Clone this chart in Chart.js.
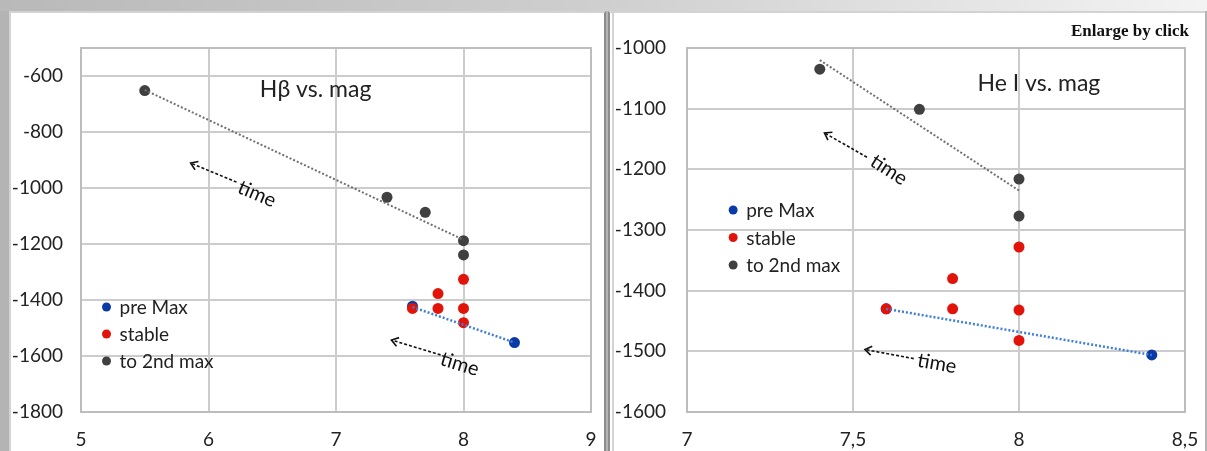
<!DOCTYPE html>
<html>
<head>
<meta charset="utf-8">
<script src="https://cdn.jsdelivr.net/npm/chart.js@4.4.1/dist/chart.umd.min.js"></script>
<style>
  html, body { margin: 0; padding: 0; }
  body { width: 1207px; height: 451px; position: relative; overflow: hidden; background: #b4b4b4; }
  .topbar { position: absolute; left: 0; top: 0; width: 1207px; height: 11px;
            background: linear-gradient(to right, #b9b9b9, #cfcfcf 50%, #f3f3f3); }
  .panel { position: absolute; top: 11px; height: 440px; background: #fff; box-sizing: border-box;
           border-top: 2px solid #d3d3d3; }
  #p1 { left: 9px; width: 597px; border-left: 2px solid #d3d3d3; border-right: 2px solid #8c8c8c; }
  #p2 { left: 608px; width: 597px; border-left: 2px solid #8c8c8c; }
  #p2 .inner { position: absolute; left: 2px; top: 0; bottom: 0; border-left: 2px solid #d3d3d3; }
  canvas { position: absolute; }
  #c1 { left: 11px; top: 12px; }
  #c2 { left: 612px; top: 12px; }
  .enlarge { position: absolute; right: 18px; top: 21px; font: bold 17px "Liberation Serif", serif; color: #111; }
</style>
</head>
<body>
<div class="topbar"></div>
<div class="panel" id="p1"></div>
<div class="panel" id="p2"><div class="inner"></div></div>
<canvas id="c1" width="592" height="439"></canvas>
<canvas id="c2" width="593" height="439"></canvas>
<div class="enlarge">Enlarge by click</div>
<script>
// H-beta vs. mag
const hbPreMaxX = [7.6, 8.4];
const hbPreMaxY = [-1422, -1552];
const hbStableX = [7.6, 7.8, 7.8, 8.0, 8.0, 8.0];
const hbStableY = [-1430, -1377, -1430, -1326, -1430, -1481];
const hbSecondX = [5.5, 7.4, 7.7, 8.0, 8.0];
const hbSecondY = [-652, -1033, -1087, -1188, -1239];
const hbTrendGrayX = [5.5, 8.0];
const hbTrendGrayY = [-650, -1185];
const hbTrendBlueX = [7.6, 8.4];
const hbTrendBlueY = [-1425, -1552];

// He I vs. mag
const hePreMaxX = [7.6, 8.4];
const hePreMaxY = [-1430, -1506];
const heStableX = [7.6, 7.8, 7.8, 8.0, 8.0, 8.0];
const heStableY = [-1430, -1380, -1430, -1328, -1432, -1482];
const heSecondX = [7.4, 7.7, 8.0, 8.0];
const heSecondY = [-1035, -1101, -1216, -1277];
const heTrendGrayX = [7.4, 8.0];
const heTrendGrayY = [-1020, -1235];
const heTrendBlueX = [7.6, 8.4];
const heTrendBlueY = [-1430, -1506];

const seriesNames = ['pre Max', 'stable', 'to 2nd max'];

const BLUE = '#0a3aa6';
const RED = '#e2140a';
const GRAY = '#404040';
const FONT = 'Lato, "Open Sans", sans-serif';

function zip(xs, ys) {
    return xs.map((x, i) => ({ x: x, y: ys[i] }));
}

// frame around the plot area
const framePlugin = {
    id: 'frame',
    beforeDatasetsDraw(chart) {
        const a = chart.chartArea;
        const ctx = chart.ctx;
        ctx.save();
        ctx.strokeStyle = '#bdbdbd';
        ctx.lineWidth = 2;
        ctx.strokeRect(a.left, a.top, a.right - a.left, a.bottom - a.top);
        ctx.restore();
    }
};

// title, legend and "time" arrows inside the plot area
const notesPlugin = {
    id: 'notes',
    afterDraw(chart) {
        const n = chart.options.plugins.notes;
        const sx = chart.scales.x, sy = chart.scales.y;
        const px = v => sx.getPixelForValue(v);
        const py = v => sy.getPixelForValue(v);
        const ctx = chart.ctx;
        ctx.save();

        // title
        ctx.fillStyle = '#222';
        ctx.font = n.titleSize + 'px ' + FONT;
        ctx.textAlign = 'center';
        ctx.textBaseline = 'middle';
        ctx.fillText(n.title, px(n.titleAt[0]), py(n.titleAt[1]));

        // legend
        const lx = px(n.legendAt[0]);
        const ly = py(n.legendAt[1]);
        ctx.font = '19px ' + FONT;
        ctx.textAlign = 'left';
        chart.data.datasets.filter(d => d.inLegend).forEach((d, i) => {
            const y = ly + i * n.legendGap;
            ctx.fillStyle = d.backgroundColor;
            ctx.beginPath();
            ctx.arc(lx, y, 4.5, 0, Math.PI * 2);
            ctx.fill();
            ctx.fillStyle = '#222';
            ctx.fillText(d.label, lx + 13, y + 1);
        });

        // time arrows
        n.arrows.forEach(a => {
            const hx = px(a.head[0]), hy = py(a.head[1]);
            const tx = px(a.tail[0]), ty = py(a.tail[1]);
            const ang = Math.atan2(hy - ty, hx - tx);
            ctx.strokeStyle = '#111';
            ctx.lineWidth = 1.6;
            ctx.setLineDash([3, 2]);
            ctx.beginPath();
            ctx.moveTo(tx, ty);
            ctx.lineTo(hx, hy);
            ctx.stroke();
            ctx.setLineDash([]);
            ctx.beginPath();
            ctx.moveTo(hx + 8 * Math.cos(ang + Math.PI - 0.6), hy + 8 * Math.sin(ang + Math.PI - 0.6));
            ctx.lineTo(hx, hy);
            ctx.lineTo(hx + 8 * Math.cos(ang + Math.PI + 0.6), hy + 8 * Math.sin(ang + Math.PI + 0.6));
            ctx.stroke();

            ctx.save();
            ctx.translate(px(a.text[0]), py(a.text[1]));
            ctx.rotate(a.rot * Math.PI / 180);
            ctx.fillStyle = '#111';
            ctx.font = '20px ' + FONT;
            ctx.textAlign = 'center';
            ctx.textBaseline = 'middle';
            ctx.fillText('time', 0, 0);
            ctx.restore();
        });
        ctx.restore();
    }
};

function makeChart(canvas, s) {
    const tickFont = { family: FONT, size: 19 };

    return new Chart(canvas, {
        type: 'scatter',
        data: {
            datasets: [
                { label: seriesNames[0], data: zip(s.preX, s.preY), backgroundColor: BLUE, borderColor: BLUE,
                  pointRadius: 5.5, pointBorderWidth: 0, order: 3, inLegend: true },
                { label: seriesNames[1], data: zip(s.stableX, s.stableY), backgroundColor: RED, borderColor: RED,
                  pointRadius: 5.5, pointBorderWidth: 0, order: 1, inLegend: true },
                { label: seriesNames[2], data: zip(s.secondX, s.secondY), backgroundColor: GRAY, borderColor: GRAY,
                  pointRadius: 5.5, pointBorderWidth: 0, order: 2, inLegend: true },
                { label: 'trend gray', data: zip(s.trendGrayX, s.trendGrayY), showLine: true, pointRadius: 0,
                  borderColor: '#707070', borderWidth: 2, borderDash: [2, 2], order: 0 },
                { label: 'trend blue', data: zip(s.trendBlueX, s.trendBlueY), showLine: true, pointRadius: 0,
                  borderColor: '#3f7fd6', borderWidth: 2.5, borderDash: [2, 2], order: 0 }
            ]
        },
        options: {
            responsive: false,
            animation: false,
            layout: { padding: { top: 36, right: s.padRight, left: 0, bottom: 0 } },
            plugins: {
                legend: { display: false },
                tooltip: { enabled: false },
                notes: s.notes
            },
            scales: {
                x: {
                    type: 'linear', min: s.xMin, max: s.xMax,
                    // invisible tick marks push the labels down without widening the side padding
                    grid: { color: '#cccccc', lineWidth: 2, drawTicks: true, tickLength: 16, tickColor: 'rgba(0,0,0,0)' },
                    border: { display: false },
                    ticks: { stepSize: s.xStep, padding: 0, font: tickFont, color: '#222',
                             callback: v => String(v).replace('.', ',') },
                    afterFit: scale => { scale.height = 39; }
                },
                y: {
                    type: 'linear', min: s.yMin, max: s.yMax,
                    grid: { color: '#cccccc', lineWidth: 2, drawTicks: false },
                    border: { display: false },
                    ticks: { stepSize: s.yStep, padding: s.yPad, font: tickFont, color: '#222',
                             callback: v => String(v) },
                    afterBuildTicks: scale => {
                        scale.ticks = scale.ticks.filter(t => t.value % s.yStep === 0);
                    },
                    afterFit: scale => { scale.width = s.yWidth; }
                }
            }
        },
        plugins: [framePlugin, notesPlugin]
    });
}

makeChart(document.getElementById('c1'), {
    preX: hbPreMaxX, preY: hbPreMaxY,
    stableX: hbStableX, stableY: hbStableY,
    secondX: hbSecondX, secondY: hbSecondY,
    trendGrayX: hbTrendGrayX, trendGrayY: hbTrendGrayY,
    trendBlueX: hbTrendBlueX, trendBlueY: hbTrendBlueY,
    xMin: 5, xMax: 9, xStep: 1,
    yMin: -1800, yMax: -500, yStep: 200,
    yWidth: 70, yPad: 18, padRight: 12,
    notes: {
        title: 'Hβ vs. mag', titleSize: 23, titleAt: [6.84, -648],
        legendAt: [5.2, -1425], legendGap: 27,
        arrows: [
            { head: [5.86, -911], tail: [6.22, -979], text: [6.38, -1021], rot: 23 },
            { head: [7.435, -1543], tail: [7.82, -1596], text: [7.97, -1629], rot: 17 }
        ]
    }
});

makeChart(document.getElementById('c2'), {
    preX: hePreMaxX, preY: hePreMaxY,
    stableX: heStableX, stableY: heStableY,
    secondX: heSecondX, secondY: heSecondY,
    trendGrayX: heTrendGrayX, trendGrayY: heTrendGrayY,
    trendBlueX: heTrendBlueX, trendBlueY: heTrendBlueY,
    xMin: 7, xMax: 8.5, xStep: 0.5,
    yMin: -1600, yMax: -1000, yStep: 100,
    yWidth: 75, yPad: 21, padRight: 20,
    notes: {
        title: 'He I vs. mag', titleSize: 23, titleAt: [8.06, -1059],
        legendAt: [7.139, -1267], legendGap: 27.5,
        arrows: [
            { head: [7.414, -1140], tail: [7.542, -1180], text: [7.608, -1201], rot: 33 },
            { head: [7.536, -1497], tail: [7.683, -1512], text: [7.753, -1520], rot: 10 }
        ]
    }
});
</script>
</body>
</html>
